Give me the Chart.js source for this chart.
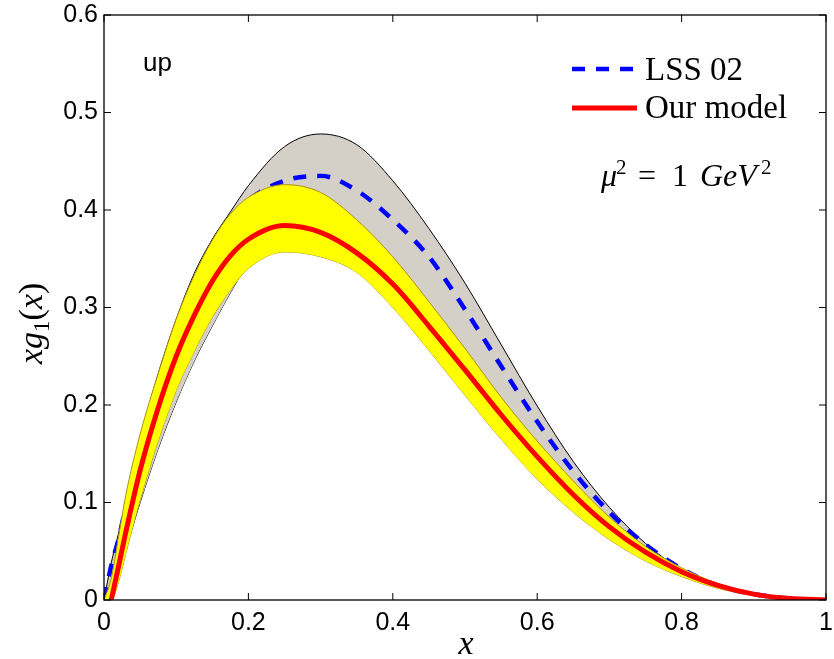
<!DOCTYPE html>
<html>
<head>
<meta charset="utf-8">
<script src="https://cdn.jsdelivr.net/npm/chart.js@4.4.1/dist/chart.umd.min.js"></script>
<style>
  html, body { margin: 0; padding: 0; background: #fff; }
  #wrap { width: 834px; height: 659px; }
</style>
</head>
<body>
<div id="wrap"><canvas id="myChart" width="834" height="659"></canvas></div>
<script>
// x grid shared by all curves
var xValues = [0, 0.01, 0.02, 0.03, 0.05, 0.075, 0.1, 0.125, 0.15, 0.175, 0.2, 0.25, 0.3, 0.35,
               0.4, 0.45, 0.5, 0.55, 0.6, 0.65, 0.7, 0.75, 0.8, 0.85, 0.9, 0.95, 1.0];

// LSS 02 central curve and its grey band
var lssValues = [0, 0.035, 0.062, 0.095, 0.155, 0.222, 0.278, 0.325, 0.36, 0.39, 0.41, 0.43, 0.435, 0.42,
                 0.39, 0.352, 0.298, 0.24, 0.183, 0.132, 0.09, 0.057, 0.032, 0.015, 0.006, 0.0015, 0];
var lssHigh = [0, 0.038, 0.068, 0.1, 0.165, 0.232, 0.288, 0.335, 0.37, 0.398, 0.425, 0.465, 0.478, 0.467,
               0.43, 0.381, 0.325, 0.262, 0.199, 0.142, 0.095, 0.058, 0.031, 0.014, 0.005, 0.001, 0];
var lssLow = [0, 0.012, 0.03, 0.052, 0.10, 0.155, 0.203, 0.245, 0.281, 0.315, 0.345, 0.38, 0.39, 0.375,
              0.345, 0.3, 0.252, 0.203, 0.158, 0.118, 0.083, 0.054, 0.032, 0.016, 0.006, 0.001, 0];

// our model central curve and its yellow band
var modelValues = [null, 0, 0.034, 0.069, 0.133, 0.197, 0.25, 0.292, 0.327, 0.353, 0.37, 0.384, 0.377, 0.356,
                   0.324, 0.281, 0.236, 0.19, 0.147, 0.108, 0.075, 0.049, 0.029, 0.015, 0.006, 0.0015, 0];
var modelHigh = [0, 0.022, 0.064, 0.107, 0.17, 0.232, 0.288, 0.333, 0.369, 0.396, 0.413, 0.426, 0.418, 0.39,
                 0.352, 0.306, 0.258, 0.208, 0.163, 0.122, 0.085, 0.055, 0.033, 0.017, 0.007, 0.002, 0];
var modelLow = [0, 0, 0.018, 0.047, 0.103, 0.163, 0.215, 0.255, 0.29, 0.318, 0.34, 0.357, 0.352, 0.336,
                0.3, 0.256, 0.21, 0.165, 0.124, 0.09, 0.062, 0.04, 0.024, 0.012, 0.005, 0.001, 0];

var xTickValues = [0, 0.2, 0.4, 0.6, 0.8, 1];
var xTickLabels = ['0', '0.2', '0.4', '0.6', '0.8', '1'];
var yTickValues = [0, 0.1, 0.2, 0.3, 0.4, 0.5, 0.6];
var yTickLabels = ['0', '0.1', '0.2', '0.3', '0.4', '0.5', '0.6'];

function pts(arr) {
    return xValues.map(function (x, i) { return { x: x, y: arr[i] }; });
}

var serif = '"Liberation Serif", "DejaVu Serif", serif';
var sans = '"Liberation Sans", Arial, sans-serif';

function line(ctx, x1, y1, x2, y2) {
    ctx.beginPath(); ctx.moveTo(x1, y1); ctx.lineTo(x2, y2); ctx.stroke();
}

// draw a run of text pieces: [text, font, dy]
function pieces(ctx, list, x, y) {
    list.forEach(function (p) {
        ctx.font = p[1];
        ctx.fillText(p[0], x, y + (p[2] || 0));
        x += ctx.measureText(p[0]).width;
    });
}

var frame = {
    id: 'frame',
    afterDraw: function (chart) {
        var ctx = chart.ctx, a = chart.chartArea;
        var xs = chart.scales.x, ys = chart.scales.y;
        ctx.save();
        ctx.strokeStyle = '#000';
        ctx.lineWidth = 1.3;
        ctx.strokeRect(a.left, a.top, a.right - a.left, a.bottom - a.top);
        ctx.lineWidth = 1;
        xTickValues.forEach(function (v) {
            var px = xs.getPixelForValue(v);
            line(ctx, px, a.bottom, px, a.bottom - 7);
            line(ctx, px, a.top, px, a.top + 7);
        });
        yTickValues.forEach(function (v) {
            var py = ys.getPixelForValue(v);
            line(ctx, a.left, py, a.left + 7, py);
            line(ctx, a.right, py, a.right - 7, py);
        });

        // legend
        ctx.lineWidth = 4.5;
        ctx.strokeStyle = '#0000ff';
        ctx.setLineDash([13, 11]);
        line(ctx, 572, 69, 637, 69);
        ctx.setLineDash([]);
        ctx.strokeStyle = '#ff0000';
        ctx.lineWidth = 5;
        line(ctx, 572, 108, 637, 108);
        ctx.fillStyle = '#000';
        ctx.textBaseline = 'alphabetic';
        ctx.textAlign = 'left';
        ctx.font = '33px ' + serif;
        ctx.fillText('LSS 02', 645, 80);
        ctx.fillText('Our model', 645, 118);

        // annotations
        ctx.font = '26px ' + sans;
        ctx.fillText('up', 143, 71);
        ctx.font = 'italic 32px ' + serif;
        ctx.fillText('\u03bc', 601, 186);
        ctx.fillText('GeV', 700, 186);
        ctx.font = '32px ' + serif;
        ctx.fillText('=', 638, 186);
        ctx.fillText('1', 672, 186);
        ctx.font = '21px ' + serif;
        ctx.fillText('2', 616, 174);
        ctx.fillText('2', 761, 174);

        // x axis title
        ctx.font = 'italic 34px ' + serif;
        ctx.textAlign = 'center';
        ctx.fillText('x', 466, 654);

        // y axis title
        ctx.translate(42, 312);
        ctx.rotate(-Math.PI / 2);
        ctx.textAlign = 'left';
        pieces(ctx, [
            ['xg', 'italic 34px ' + serif],
            ['1', '23px ' + serif, 7],
            ['(', '34px ' + serif],
            ['x', 'italic 34px ' + serif],
            [')', '34px ' + serif]
        ], -52, 0);
        ctx.restore();
    }
};

var ctx = document.getElementById('myChart');
var myChart = new Chart(ctx, {
    type: 'line',
    data: {
        datasets: [
            { label: 'lssLow', data: pts(lssLow), borderColor: '#000', borderWidth: 1, fill: false, order: 5 },
            { label: 'lssHigh', data: pts(lssHigh), borderColor: '#000', borderWidth: 1,
              backgroundColor: '#d4d0c8', fill: 0, order: 4 },
            { label: 'modelLow', data: pts(modelLow), borderColor: '#b09010', borderWidth: 1, fill: false, order: 2 },
            { label: 'modelHigh', data: pts(modelHigh), borderColor: '#b09010', borderWidth: 1,
              backgroundColor: '#ffff00', fill: 2, order: 1 },
            { label: 'LSS 02', data: pts(lssValues), borderColor: '#0000ff', borderWidth: 4.5,
              borderDash: [13, 11], fill: false, order: 3 },
            { label: 'Our model', data: pts(modelValues), borderColor: '#ff0000', borderWidth: 5,
              fill: false, order: 0 }
        ]
    },
    options: {
        responsive: false,
        animation: false,
        layout: { padding: { top: 15, right: 8, left: 0, bottom: 0 } },
        elements: {
            point: { radius: 0 },
            line: { cubicInterpolationMode: 'monotone' }
        },
        plugins: {
            legend: { display: false },
            tooltip: { enabled: false }
        },
        scales: {
            x: {
                type: 'linear', min: 0, max: 1,
                grid: { display: false, drawTicks: false },
                border: { display: false },
                afterFit: function (s) { s.height = 59; s.paddingLeft = 0; s.paddingRight = 0; },
                ticks: {
                    stepSize: 0.2, padding: 8, color: '#000', maxRotation: 0,
                    font: { family: sans, size: 25 },
                    callback: function (v, i) { return xTickLabels[i]; }
                }
            },
            y: {
                type: 'linear', min: 0, max: 0.6,
                grid: { display: false, drawTicks: false },
                border: { display: false },
                afterFit: function (s) { s.width = 104; s.paddingTop = 0; s.paddingBottom = 0; },
                ticks: {
                    stepSize: 0.1, padding: 6, color: '#000',
                    font: { family: sans, size: 25 },
                    callback: function (v, i) { return yTickLabels[i]; }
                }
            }
        }
    },
    plugins: [frame]
});
</script>
</body>
</html>
